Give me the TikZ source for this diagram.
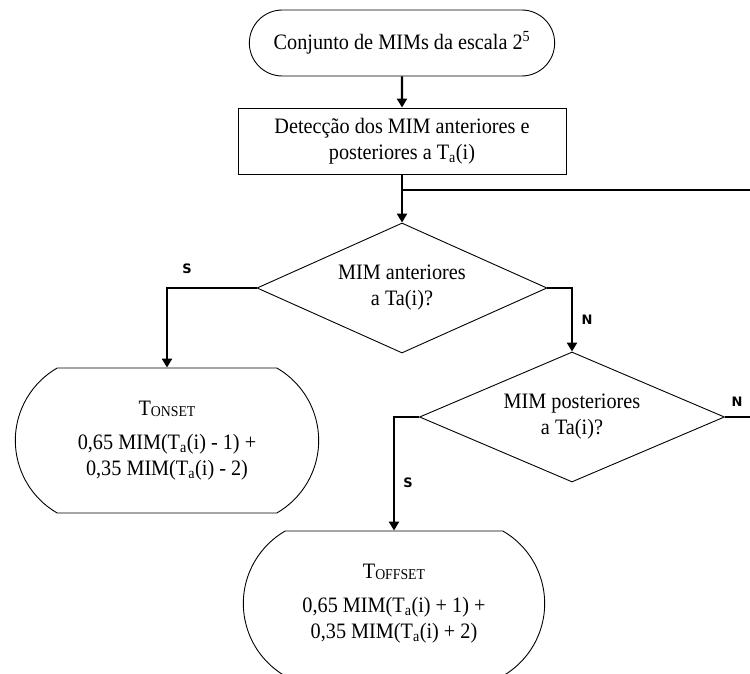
\documentclass[tikz,border=0pt]{standalone}
\usepackage{fontspec}
\setmainfont[FakeStretch=0.92]{Liberation Serif}
\newfontfamily\labelfont{DejaVu Sans}
\usetikzlibrary{shapes.geometric,shapes.misc,arrows.meta}
\newcommand{\boxtextsize}{\fontsize{22}{26}\selectfont}
\newcommand{\capsub}[1]{\raisebox{-1.5pt}{\fontsize{15}{15}\selectfont #1}}
\newcommand{\lineweight}{2.4pt}
\tikzset{
  terminal/.style={draw=black,line width=0.9pt,rounded rectangle,minimum width=312pt,minimum height=66pt,font=\boxtextsize},
  result/.style={draw=black,line width=0.9pt,rounded rectangle,rounded rectangle arc length=120,minimum height=145pt,align=center,font=\boxtextsize},
  process/.style={draw=black,line width=0.9pt,rectangle,minimum width=328pt,minimum height=66pt,align=center,font=\boxtextsize},
  decision/.style={draw=black,line width=0.9pt,diamond,aspect=2.2,minimum width=290pt,minimum height=130pt,inner sep=0pt,align=center,font=\boxtextsize},
  link/.style={line width=\lineweight},
  flow/.style={link,-{Triangle[length=9pt,width=10pt]}},
  answer/.style={font=\labelfont\fontsize{13}{15}\selectfont\bfseries}
}

\begin{document}
\begin{tikzpicture}[x=1pt,y=1pt]
\useasboundingbox (0,0) rectangle (750,673);

% Flowchart nodes
\node (conj) [terminal] at (402,630) {Conjunto de MIMs da escala 2\textsuperscript{5}};
\node (detec) [process] at (402,532) {Detecção dos MIM anteriores e\\posteriores a T\textsubscript{a}(i)};
\node (ant) [decision] at (402,385) {MIM anteriores\\a Ta(i)?};
\node (post) [decision,minimum width=305pt] at (572,256) {MIM posteriores\\a Ta(i)?};
\node (onset) [result,minimum width=310pt] at (167,232.5) {T\capsub{ONSET}\\[8pt]0,65 MIM(T\textsubscript{a}(i) - 1) +\\0,35 MIM(T\textsubscript{a}(i) - 2)};
\node (offset) [result,minimum width=308pt] at (394,69.5) {T\capsub{OFFSET}\\[8pt]0,65 MIM(T\textsubscript{a}(i) + 1) +\\0,35 MIM(T\textsubscript{a}(i) + 2)};

% Free ends
\coordinate (split) at (402,483);
\coordinate (edgetop) at (750,483);
\coordinate (edgelow) at (750,256);

% Connectors
\draw[flow] (conj) -- (detec);
\draw[link] (detec) -- (split);
\draw[flow] (split) -- (ant);
\draw[link] (split) -- (edgetop);
\draw[flow] (ant.west) -| (onset.north);
\draw[flow] (ant.east) -| (post.north);
\draw[link] (post.east) -- (edgelow);
\draw[flow] (post.west) -| (offset.north);

% Answer labels
\node (simA) [answer] at (187,404) {S};
\node (naoA) [answer] at (587,353) {N};
\node (naoB) [answer] at (737,271) {N};
\node (simB) [answer] at (408,190) {S};

\end{tikzpicture}
\end{document}
